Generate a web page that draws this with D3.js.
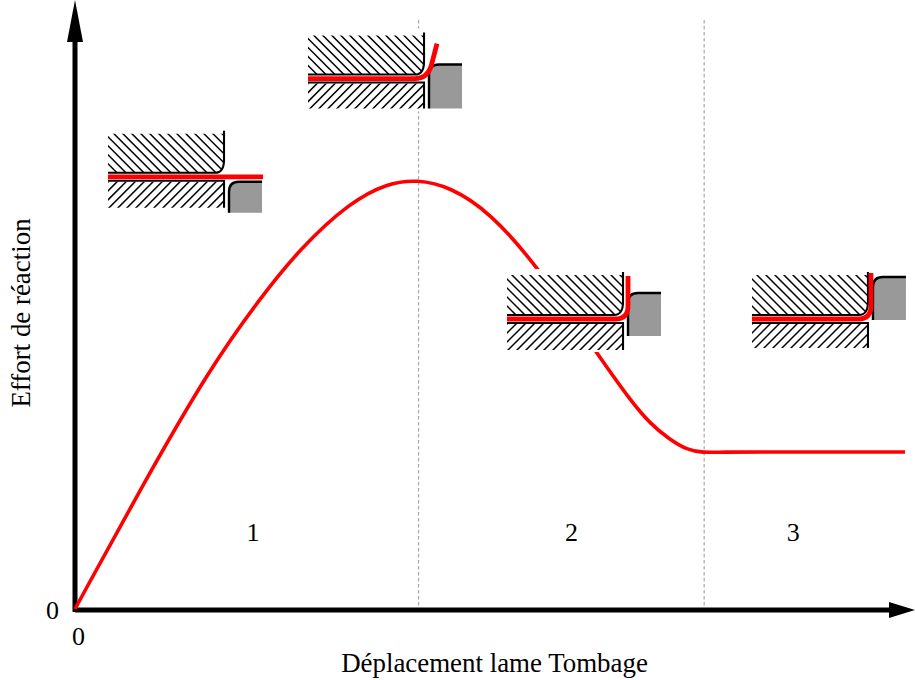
<!DOCTYPE html>
<html><head><meta charset="utf-8">
<script src="https://cdn.jsdelivr.net/npm/d3@7"></script>
<style>html,body{margin:0;background:#fff}svg{display:block}text{font-family:"Liberation Serif",serif;fill:#000}</style>
</head><body><svg id="c" width="915" height="680"></svg>
<script>
// Data (arbitrary units: 0-100 on both axes)
const displacement=[0,7.98,16.07,22.02,26.79,32.74,37.2,40.71,44.64,49.4,55.12,62.14,66.07,68.45,70.83,72.86,74.76,76.79,83.93,98.81];
const effort=[0,20.7,40.57,52.3,60.7,68.5,71.7,72.3,71.1,66.8,57.6,43.0,35.2,31.2,28.5,26.8,26.3,26.43,26.43,26.43];
const dividers=[40.9,74.9];
const regionNames=["1","2","3"];
const regionX=[21.2,59.1,85.5];
const regionY=11.4;
const insetX=[17.74,41.55,65.24,94.4];
const insetY=[72.76,89.3,48.82,48.82];
const insetStage=[0,1,2,3];
const dieTop=[5,-14,-26,-42];
const dieBottom=[36,30,17,1];
const xTitle="Déplacement lame Tombage";
const yTitle="Effort de réaction";

const ox=75,oy=609;
const x=d3.scaleLinear().domain([0,100]).range([ox,ox+840]);
const y=d3.scaleLinear().domain([0,100]).range([oy,oy-594]);
const svg=d3.select("#c");
const defs=svg.append("defs");

// dividers
svg.selectAll("line.div").data(dividers).join("line").attr("class","div")
 .attr("x1",d=>x(d)).attr("x2",d=>x(d)).attr("y1",20).attr("y2",oy)
 .attr("stroke","#a8a8a8").attr("stroke-width",1.2).attr("stroke-dasharray","3.5 2.5");

// curve
const line=d3.line().x(d=>x(d)).y((d,i)=>y(effort[i])).curve(d3.curveBasis);

// axes
const axX=d3.axisBottom(x).tickValues([0]).tickSize(0).tickFormat(d3.format("d"));
const gx=svg.append("g").attr("transform",`translate(0,${oy})`).call(axX);
gx.select(".domain").remove();
gx.selectAll("text").attr("font-size",26).attr("font-family","Liberation Serif").attr("dx",3).attr("y",18);
const axY=d3.axisLeft(y).tickValues([0]).tickSize(0).tickFormat(d3.format("d"));
const gy=svg.append("g").attr("transform",`translate(${ox},0)`).call(axY);
gy.select(".domain").remove();
gy.selectAll("text").attr("font-size",26).attr("font-family","Liberation Serif").attr("x",-16).attr("dy",9);

svg.append("line").attr("x1",ox).attr("x2",ox).attr("y1",oy+3).attr("y2",35).attr("stroke","#000").attr("stroke-width",5);
svg.append("line").attr("x1",ox).attr("x2",893).attr("y1",oy+1).attr("y2",oy+1).attr("stroke","#000").attr("stroke-width",5);
svg.append("path").attr("d",`M${ox},0L${ox+8},42L${ox-8},42Z`).attr("fill","#000");
svg.append("path").attr("d",`M915,${oy+1}L889,${oy-7}L889,${oy+9}Z`).attr("fill","#000");
// curve sits on top of the axes
svg.append("path").attr("d",line(displacement)).attr("fill","none").attr("stroke","#f00").attr("stroke-width",3.6);

// region labels and titles
svg.selectAll("text.reg").data(regionNames).join("text").attr("class","reg")
 .attr("x",(d,i)=>x(regionX[i])).attr("y",y(regionY)).attr("text-anchor","middle").attr("font-size",26).text(d=>d);
svg.append("text").attr("x",494.5).attr("y",672).attr("text-anchor","middle").attr("font-size",26.9).text(xTitle);
svg.append("text").attr("transform","translate(30,313) rotate(-90)").attr("text-anchor","middle").attr("font-size",26.9).text(yTitle);

// tool insets: one drawn per stage, local origin at the die-corner
const stripPaths=[
 "M-116,0L39,0",
 "M-116,0L-9,0Q3,0 7,-12L13,-35",
 "M-116,0L-8,0Q5,0 5,-13L5,-43",
 "M-116,0L-10,0Q3,0 3,-13L3,-46"
];
const upperTop=[-43,-43,-44,-44];
const lowerH=[31,30,31,29];
insetStage.forEach((s,i)=>{
 const g=svg.append("g").attr("transform",`translate(${x(insetX[i])},${y(insetY[i])})`);
 g.append("rect").attr("x",-118).attr("y",-50).attr("width",160).attr("height",83).attr("fill","#fff");
 const idU="u"+i,idL="l"+i;
 defs.append("clipPath").attr("id",idU).append("rect").attr("x",-116).attr("y",upperTop[i]).attr("width",116).attr("height",-upperTop[i]-4);
 defs.append("clipPath").attr("id",idL).append("rect").attr("x",-116).attr("y",5).attr("width",116).attr("height",lowerH[i]-5);
 const gu=g.append("g").attr("clip-path",`url(#${idU})`);
 d3.range(-171,10,9).forEach(a=>gu.append("line").attr("x1",a).attr("y1",-50).attr("x2",a+50).attr("y2",0).attr("stroke","#000").attr("stroke-width",1.5));
 const gl=g.append("g").attr("clip-path",`url(#${idL})`);
 d3.range(-120,50,9).forEach(a=>gl.append("line").attr("x1",a).attr("y1",0).attr("x2",a-35).attr("y2",35).attr("stroke","#000").attr("stroke-width",1.5));
 // clear round corner
 g.append("path").attr("d","M-9,-4Q0,-4 0,-17L0,-4Z").attr("fill","#fff");
 // upper tool outline
 g.append("path").attr("d",`M-116,-4L-9,-4Q0,-4 0,-17L0,${upperTop[i]-3}`).attr("fill","none").attr("stroke","#000").attr("stroke-width",2.1);
 // lower tool outline
 g.append("path").attr("d",`M-116,4L0,4L0,${lowerH[i]}`).attr("fill","none").attr("stroke","#000").attr("stroke-width",2.1);
 // die
 const t=dieTop[i],b=dieBottom[i];
 g.append("path").attr("d",`M5,${b}L5,${t+10}Q5,${t} 15,${t}L38,${t}L38,${b}Z`).attr("fill","#999");
 g.append("path").attr("d",`M5,${b}L5,${t+10}Q5,${t} 15,${t}L38,${t}`).attr("fill","none").attr("stroke","#000").attr("stroke-width",2.4);
 // strip
 g.append("path").attr("d",stripPaths[s]).attr("fill","none").attr("stroke","#f00").attr("stroke-width",4.8);
});
</script></body></html>
